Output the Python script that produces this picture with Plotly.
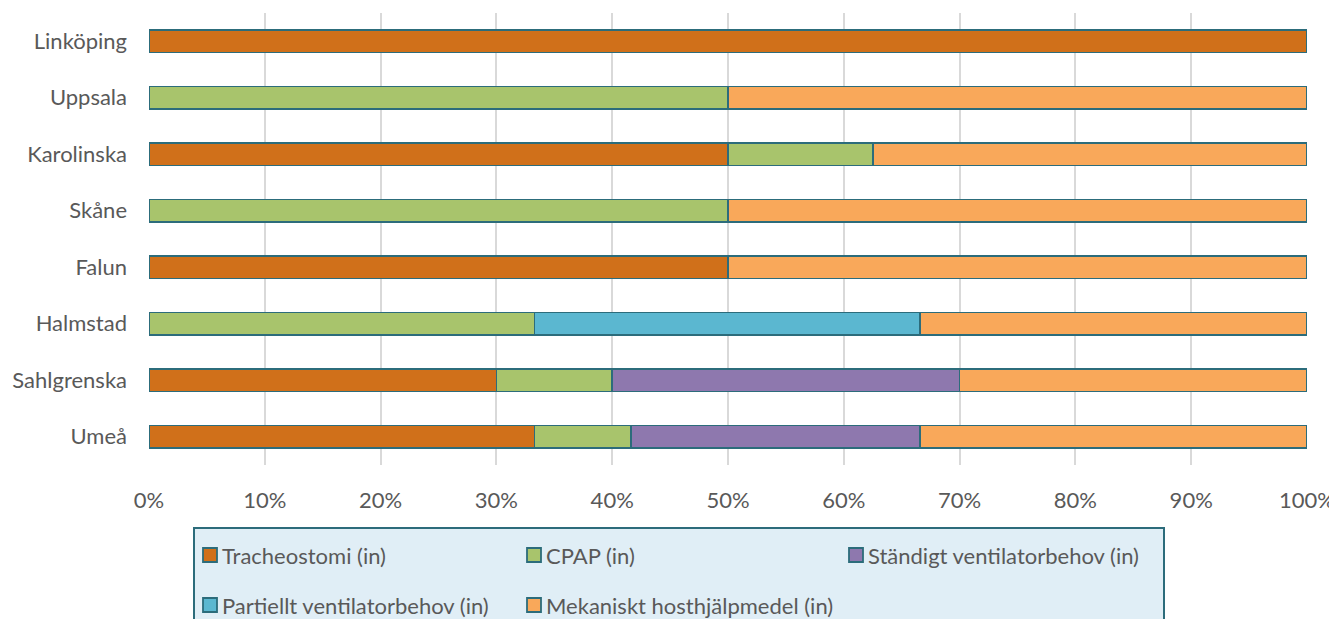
import plotly.graph_objects as go

categories = ["Linköping", "Uppsala", "Karolinska", "Skåne", "Falun", "Halmstad", "Sahlgrenska", "Umeå"]

tracheostomi = [100, 0, 50, 0, 50, 0, 30, 33.3]
cpap = [0, 50, 12.5, 50, 0, 33.3, 10, 8.3]
standigt = [0, 0, 0, 0, 0, 0, 30, 25]
partiellt = [0, 0, 0, 0, 0, 33.3, 0, 0]
mekaniskt = [0, 50, 37.5, 50, 50, 33.4, 30, 33.4]

series_names = ["Tracheostomi (in)", "CPAP (in)", "Ständigt ventilatorbehov (in)",
                "Partiellt ventilatorbehov (in)", "Mekaniskt hosthjälpmedel (in)"]
series_values = [tracheostomi, cpap, standigt, partiellt, mekaniskt]
series_colors = ["#D0701A", "#A8C46C", "#8E78AE", "#5BB7D0", "#F9A85A"]
tick_vals = [0, 10, 20, 30, 40, 50, 60, 70, 80, 90, 100]
tick_text = [f"{v}%" for v in tick_vals]

edge = "#2C6C7B"
font_family = "Lato, 'Open Sans', sans-serif"
text_color = "#595959"
FS = 22

# page has an 8px body margin; figure sized so it ends at the window edge
OFF = 8
W, H = 1337 - OFF, 619 - OFF
L, R, T, B = 149 - OFF, 30, 13 - OFF, 154
pw, ph = W - L - R, H - T - B

def px2x(px):
    return (px - OFF - L) / pw

def py2y(py):
    return (H - B - (py - OFF)) / ph

fig = go.Figure()
for name, vals, col in zip(series_names, series_values, series_colors):
    fig.add_trace(go.Bar(
        y=categories, x=vals, name=name, orientation="h",
        marker=dict(color=col, line=dict(color=edge, width=1.6)),
        showlegend=False,
    ))

# legend box (Excel style), in page pixel positions
shapes = [dict(type="rect", xref="paper", yref="paper",
               x0=px2x(194), x1=px2x(1164), y0=py2y(660), y1=py2y(528),
               fillcolor="#E0EEF6", line=dict(color=edge, width=2), layer="below")]
annotations = []
legend_pos = [(210, 555), (534, 555), (856, 555), (210, 605), (534, 605)]
for name, col, (sx, sy) in zip(series_names, series_colors, legend_pos):
    shapes.append(dict(type="rect", xref="paper", yref="paper",
                       x0=px2x(sx - 7), x1=px2x(sx + 7), y0=py2y(sy + 7), y1=py2y(sy - 7),
                       fillcolor=col, line=dict(color=edge, width=1.8)))
    annotations.append(dict(xref="paper", yref="paper", x=px2x(sx + 10), y=py2y(sy),
                            text=name, showarrow=False, xanchor="left", yanchor="middle",
                            font=dict(family=font_family, size=FS, color=text_color)))

fig.update_layout(
    barmode="stack",
    bargap=0.6,
    width=W, height=H,
    margin=dict(l=L, r=R, t=T, b=B, pad=0),
    paper_bgcolor="white", plot_bgcolor="white",
    font=dict(family=font_family, size=FS, color=text_color),
    xaxis=dict(range=[0, 100], tickvals=tick_vals, ticktext=tick_text,
               showgrid=True, gridcolor="#D9D9D9", gridwidth=1.5,
               zeroline=False, showline=False, ticks="", ticklabelstandoff=20,
               automargin=False, fixedrange=True),
    yaxis=dict(categoryorder="array", categoryarray=categories[::-1],
               showgrid=False, zeroline=False, showline=False, ticks="",
               ticklabelstandoff=21, automargin=False),
    shapes=shapes,
    annotations=annotations,
)

fig.write_html("out.html")
